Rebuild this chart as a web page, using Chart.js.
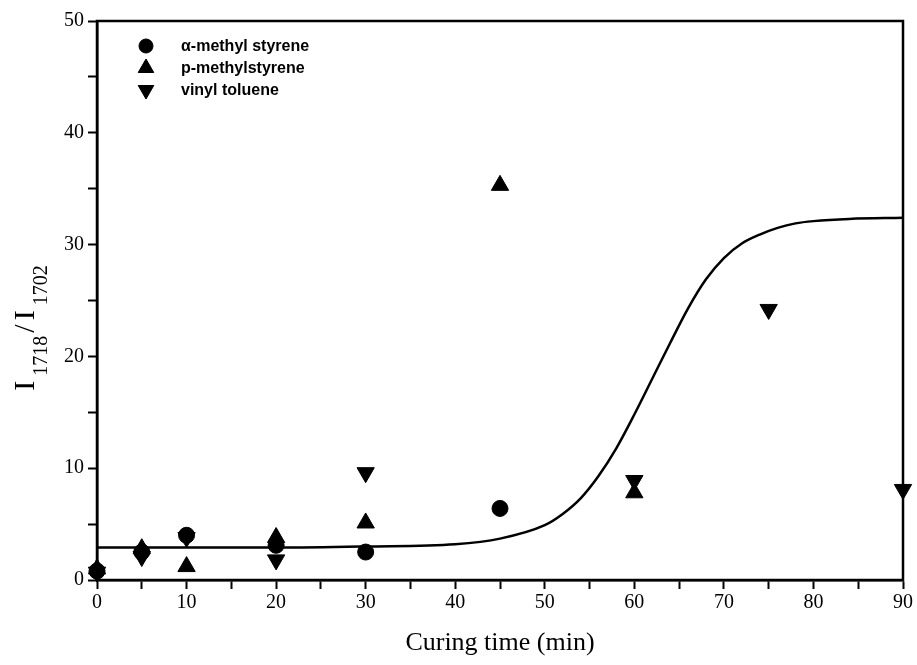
<!DOCTYPE html>
<html>
<head>
<meta charset="utf-8">
<script src="https://cdn.jsdelivr.net/npm/chart.js@4.4.1/dist/chart.umd.min.js"></script>
<style>
  html, body { margin: 0; padding: 0; background: #fff; }
  #wrap { width: 917px; height: 665px; }
</style>
</head>
<body>
<div id="wrap"><canvas id="curingChart" width="917" height="665"></canvas></div>
<script>
// Datos
const timeAMS = [0, 5, 10, 20, 30, 45];
const valAMS  = [0.8, 2.5, 4.0, 3.1, 2.5, 6.4];

const timePMS = [0, 5, 10, 20, 30, 45, 60];
const valPMS  = [1.0, 2.8, 1.2, 3.8, 5.1, 35.3, 7.8];

const timeVT = [0, 5, 10, 20, 30, 60, 75, 90];
const valVT  = [0.7, 2.1, 3.8, 1.8, 9.6, 8.9, 24.2, 8.1];

// Curva ajustada (sigmoide) leída punto a punto
const fitTime  = [0, 10, 20, 30, 40, 45, 50, 52, 54, 56, 58, 60, 62, 64, 66, 68, 70, 72, 74, 76, 78, 80, 84, 90];
const fitValue = [2.9, 2.9, 2.9, 3.0, 3.2, 3.7, 4.9, 5.9, 7.3, 9.3, 11.8, 14.8, 18.0, 21.2, 24.3, 26.9, 28.8, 30.1, 30.9, 31.5, 31.9, 32.1, 32.3, 32.4];

const labelsSeries = ['\u03b1-methyl styrene', 'p-methylstyrene', 'vinyl toluene'];

const toXY = (xs, ys) => xs.map((x, i) => ({ x: x, y: ys[i] }));

// Marco alrededor del área del gráfico
const framePlugin = {
    id: 'frame',
    afterDatasetsDraw(chart) {
        const { ctx, chartArea: a } = chart;
        ctx.save();
        ctx.strokeStyle = '#000';
        ctx.lineWidth = 2.5;
        ctx.strokeRect(a.left, a.top, a.right - a.left, a.bottom - a.top);
        ctx.restore();
    }
};

// Leyenda vertical dentro del área
const legendPlugin = {
    id: 'innerLegend',
    afterDraw(chart) {
        const ctx = chart.ctx;
        ctx.save();
        ctx.font = 'bold 16px "Liberation Sans Narrow", "Liberation Sans", sans-serif';
        ctx.textBaseline = 'middle';
        [0, 1, 2].forEach(i => {
            const ds = chart.data.datasets[i];
            const y = 46 + i * 22;
            ctx.fillStyle = '#000';
            ctx.strokeStyle = '#000';
            Chart.helpers.drawPoint(ctx, {
                pointStyle: ds.pointStyle,
                radius: ds.pointStyle === 'circle' ? 7 : 9,
                rotation: ds.rotation || 0,
                borderWidth: 1
            }, 146, y);
            ctx.fillText(ds.label, 181, y + 1);
        });
        ctx.restore();
    }
};

// Título del eje Y con subíndices
const yTitlePlugin = {
    id: 'yTitle',
    afterDraw(chart) {
        const ctx = chart.ctx;
        const big = '30px "Liberation Serif", serif';
        const small = '20px "Liberation Serif", serif';
        const parts = [
            { t: 'I', f: big, dy: 0, gap: 5 },
            { t: '1718', f: small, dy: 13, gap: 3 },
            { t: '/', f: big, dy: 0, gap: 4 },
            { t: 'I', f: big, dy: 0, gap: 5 },
            { t: '1702', f: small, dy: 13, gap: 0 }
        ];
        ctx.save();
        let total = 0;
        parts.forEach(p => { ctx.font = p.f; p.w = ctx.measureText(p.t).width; total += p.w + p.gap; });
        ctx.translate(34, 328);
        ctx.rotate(-Math.PI / 2);
        ctx.fillStyle = '#000';
        ctx.textBaseline = 'alphabetic';
        let x = -total / 2;
        parts.forEach(p => {
            ctx.font = p.f;
            ctx.fillText(p.t, x, p.dy);
            x += p.w + p.gap;
        });
        ctx.restore();
    }
};

// Título del eje X
const xTitlePlugin = {
    id: 'xTitle',
    afterDraw(chart) {
        const ctx = chart.ctx;
        ctx.save();
        ctx.font = '26px "Liberation Serif", serif';
        ctx.fillStyle = '#000';
        ctx.textAlign = 'center';
        ctx.textBaseline = 'middle';
        ctx.fillText('Curing time (min)', (chart.chartArea.left + chart.chartArea.right) / 2, 643);
        ctx.restore();
    }
};

const tickFont = { family: '"Liberation Serif", serif', size: 20 };

const ctxCuring = document.getElementById('curingChart').getContext('2d');
const curingChart = new Chart(ctxCuring, {
    type: 'scatter',
    data: {
        datasets: [
            {
                label: labelsSeries[0],
                data: toXY(timeAMS, valAMS),
                pointStyle: 'circle',
                pointRadius: 8,
                backgroundColor: '#000',
                borderColor: '#000',
                clip: false
            },
            {
                label: labelsSeries[1],
                data: toXY(timePMS, valPMS),
                pointStyle: 'triangle',
                pointRadius: 10,
                backgroundColor: '#000',
                borderColor: '#000',
                clip: false
            },
            {
                label: labelsSeries[2],
                data: toXY(timeVT, valVT),
                pointStyle: 'triangle',
                rotation: 180,
                pointRotation: 180,
                pointRadius: 10,
                backgroundColor: '#000',
                borderColor: '#000',
                clip: false
            },
            {
                label: 'fit',
                type: 'line',
                data: toXY(fitTime, fitValue),
                showLine: true,
                pointRadius: 0,
                borderColor: '#000',
                borderWidth: 2.5,
                cubicInterpolationMode: 'monotone',
                fill: false
            }
        ]
    },
    options: {
        responsive: false,
        animation: false,
        layout: { padding: { left: 0, top: 21, right: 14, bottom: 0 } },
        plugins: {
            legend: { display: false },
            tooltip: { enabled: false }
        },
        scales: {
            x: {
                type: 'linear',
                min: 0,
                max: 90,
                border: { display: true, color: '#000', width: 2.5 },
                grid: { drawOnChartArea: false, drawTicks: true, tickLength: 9, tickColor: '#000', tickWidth: 2 },
                ticks: {
                    stepSize: 5,
                    color: '#000',
                    font: tickFont,
                    padding: 2,
                    maxRotation: 0,
                    autoSkip: false,
                    callback: v => (v % 10 === 0 ? v : '')
                },
                afterFit(scale) { scale.height = 85; }
            },
            y: {
                type: 'linear',
                min: 0,
                max: 50,
                border: { display: true, color: '#000', width: 2.5 },
                grid: { drawOnChartArea: false, drawTicks: true, tickLength: 9, tickColor: '#000', tickWidth: 2 },
                ticks: {
                    stepSize: 5,
                    color: '#000',
                    font: tickFont,
                    padding: 4,
                    autoSkip: false,
                    callback: v => (v % 10 === 0 ? v : '')
                },
                afterFit(scale) { scale.width = 97; }
            }
        }
    },
    plugins: [framePlugin, legendPlugin, yTitlePlugin, xTitlePlugin]
});
</script>
</body>
</html>
